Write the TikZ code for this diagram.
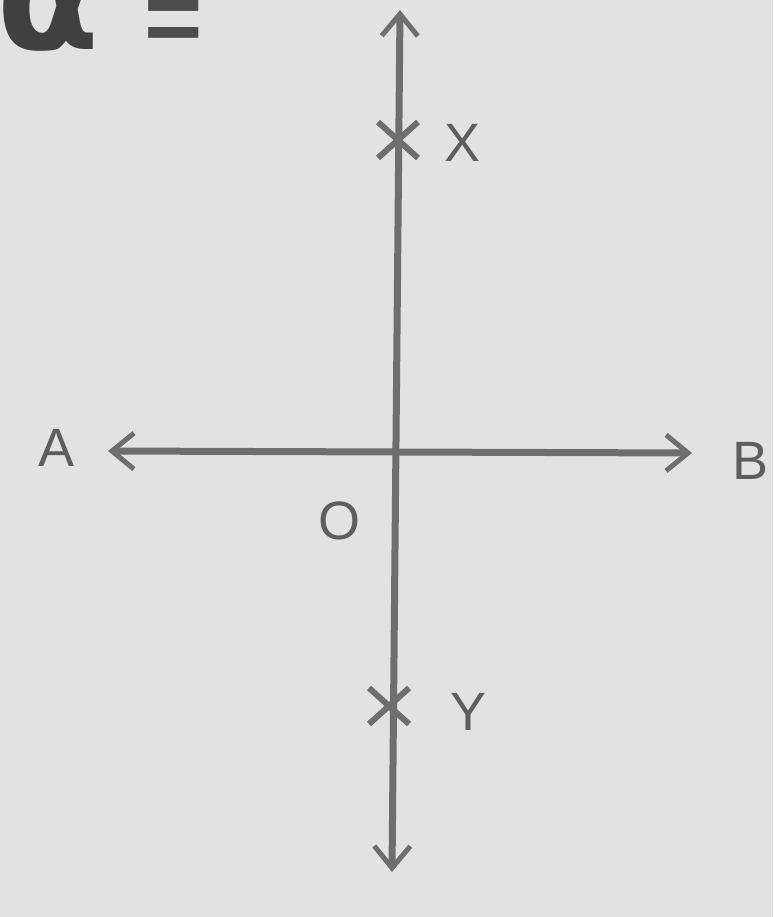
\documentclass[tikz,border=0pt]{standalone}
\usepackage{fontspec}
\setmainfont{Liberation Sans}
\newfontfamily\grk{DejaVu Sans}
\usetikzlibrary{arrows.meta,shapes.misc}
\definecolor{bg}{HTML}{E2E2E2}
\definecolor{ink}{HTML}{6E6E6E}
\definecolor{txt}{HTML}{5E5E5E}
\tikzset{
  axis/.style={draw=ink, line width=7pt, {Straight Barb[length=22pt,width=36pt,line width=5pt]}-{Straight Barb[length=22pt,width=36pt,line width=5pt]}},
  lbl/.style={text=txt, font=\fontsize{54}{58}\selectfont, inner sep=0pt},
  xmark/.style={cross out, draw=ink, line width=6pt, minimum width=34pt, minimum height=30pt, inner sep=0pt},
}
\begin{document}
\begin{tikzpicture}[x=1pt,y=-1pt]
\clip (0,0) rectangle (773,917);
\fill[bg] (0,0) rectangle (773,917);
\coordinate (top) at (400,10);
\coordinate (bot) at (392,872);
\coordinate (left) at (108,451);
\coordinate (right) at (692,453);
\draw[axis] (bot) -- (top);
\draw[axis] (left) -- (right);
\node[xmark] (px) at (398,140) {};
\node[xmark] (py) at (389,706) {};
\node[lbl] (X) at (463,143) {X};
\node[lbl] (Y) at (469,712) {Y};
\node[lbl] (A) at (57,448) {A};
\node[lbl] (B) at (750,461) {B};
\node[lbl] (O) at (339,521) {O};
\node[text=black!75, font=\grk\bfseries\fontsize{150}{150}\selectfont, inner sep=0pt, anchor=base west] (alpha) at (-4,50) {α};
\node[text=black!70, font=\fontsize{100}{100}\selectfont\bfseries, inner sep=0pt, text height=42pt, text depth=0pt, anchor=base west] (eq) at (144,53) {=};
\end{tikzpicture}
\end{document}
